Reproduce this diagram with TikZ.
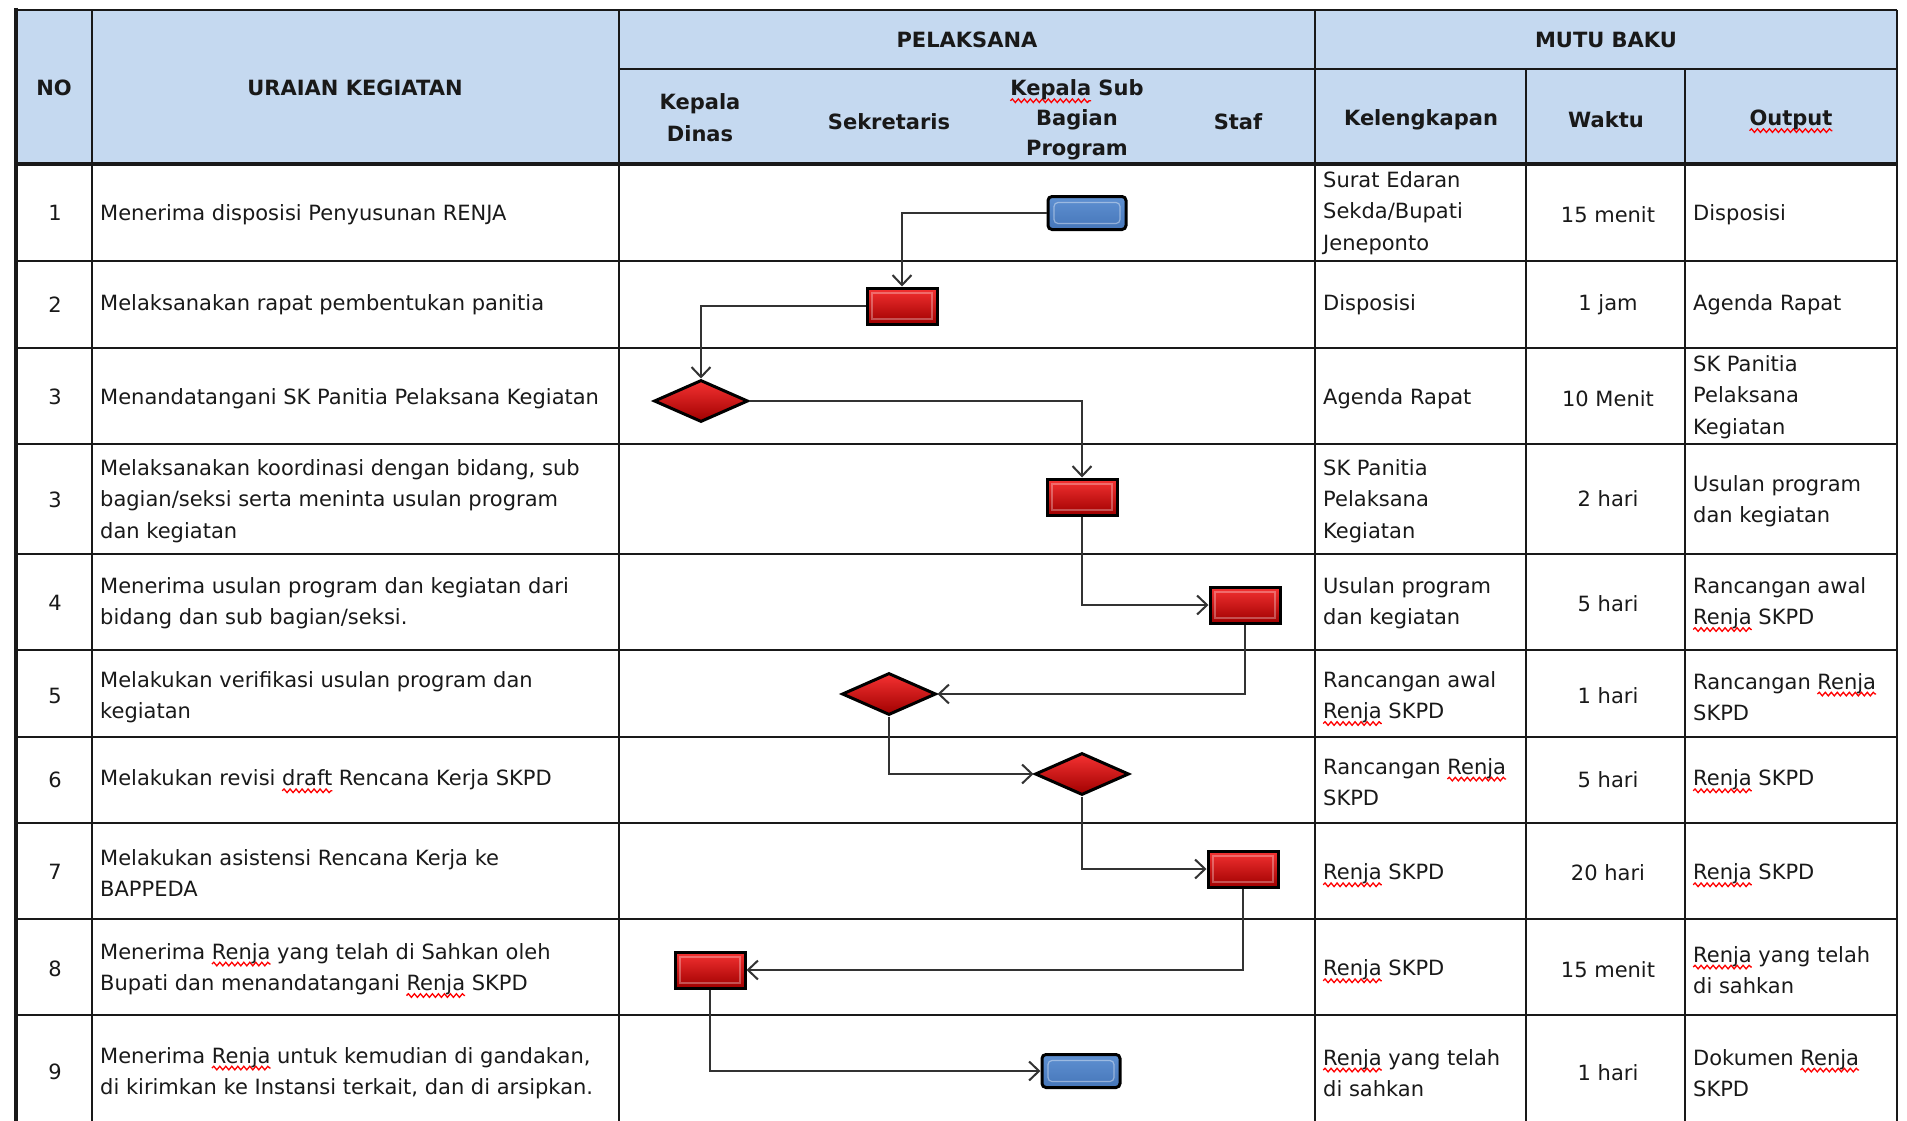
\documentclass[tikz,border=0pt]{standalone}
\usepackage{fontspec}
\setmainfont{DejaVu Sans}
\usetikzlibrary{arrows.meta,shapes.geometric,decorations.pathmorphing}
\definecolor{hdrblue}{RGB}{197,217,240}
\definecolor{redtop}{RGB}{245,50,50}
\definecolor{redmid}{RGB}{215,15,15}
\definecolor{redbot}{RGB}{160,0,0}
\definecolor{bluetop}{RGB}{125,170,228}
\definecolor{bluemid}{RGB}{95,145,210}
\definecolor{bluebot}{RGB}{70,118,185}
\definecolor{txtcol}{RGB}{25,25,25}
\newlength\sqlen
\newcommand\sq[1]{\settowidth\sqlen{#1}\leavevmode\rlap{\tikz[overlay]\draw[red,line width=1.3pt,decorate,decoration={snake,amplitude=1.8pt,segment length=6pt}] (0pt,-5pt) -- (\sqlen,-5pt);}#1}
\begin{document}
\begin{tikzpicture}[x=1pt,y=-1pt,
  tline/.style={draw=black!90,line width=2pt},
  body/.style={font=\fontsize{21}{31.5}\selectfont,text=txtcol,inner sep=0pt,align=left,anchor=west},
  cbody/.style={font=\fontsize{21}{31.5}\selectfont,text=txtcol,inner sep=0pt,align=center},
  hdr/.style={font=\fontsize{21}{31}\selectfont\bfseries,text=txtcol,inner sep=0pt,align=center},
  proc/.style={rectangle,draw=black,line width=3pt,top color=redtop,middle color=redmid,bottom color=redbot,minimum width=70pt,minimum height=36pt,inner sep=0pt,
    path picture={\draw[white,opacity=0.3,line width=1.2pt] ([shift={(5pt,-5pt)}]path picture bounding box.north west) rectangle ([shift={(-5pt,5pt)}]path picture bounding box.south east);}},
  dec/.style={diamond,aspect=2.2,draw=black,line width=3pt,top color=redtop,middle color=redmid,bottom color=redbot,minimum width=94pt,minimum height=42pt,inner sep=0pt},
  term/.style={rectangle,rounded corners=4pt,draw=black,line width=3pt,top color=bluemid,middle color=bluetop,bottom color=bluebot,minimum width=78pt,minimum height=33pt,inner sep=0pt,
    path picture={\draw[white,opacity=0.4,line width=1.2pt] ([shift={(6pt,-6pt)}]path picture bounding box.north west) rectangle ([shift={(-6pt,6pt)}]path picture bounding box.south east);}},
  conn/.style={draw=black!80,line width=2pt,-{Straight Barb[length=10pt,width=19pt,line width=2pt]}}
]
\useasboundingbox (0,0) rectangle (1907,1121);
% header background
\fill[hdrblue] (16,10) rectangle (1897,164);
% grid
\draw[tline] (16,10) -- (1897,10);
\draw[tline] (619,69) -- (1897,69);
\foreach \yy in {261,348,444,554,650,737,823,919,1015}
  \draw[tline] (16,\yy) -- (1897,\yy);
\foreach \xx in {92,619,1315,1897}
  \draw[tline] (\xx,10) -- (\xx,1121);
\foreach \xx in {1526,1685}
  \draw[tline] (\xx,69) -- (\xx,1121);
\draw[tline,line width=3.5pt] (16,164) -- (1897,164);
\draw[tline,line width=4.5pt] (16,8) -- (16,1121);

% headers
\node[hdr] (hno) at (54,88) {NO};
\node[hdr] (hur) at (355,88) {URAIAN KEGIATAN};
\node[hdr] (hpel) at (967,40) {PELAKSANA};
\node[hdr] (hmutu) at (1606,40) {MUTU BAKU};
\node[hdr,font=\fontsize{21}{32}\selectfont\bfseries] (hkd) at (700,118) {Kepala\\Dinas};
\node[hdr] (hsek) at (889,122) {Sekretaris};
\node[hdr,font=\fontsize{21}{30}\selectfont\bfseries] (hksb) at (1077,120) {\sq{Kepala} Sub\\Bagian\\Program};
\node[hdr] (hstaf) at (1238,122) {Staf};
\node[hdr] (hkel) at (1421,120) {Kelengkapan};
\node[hdr] (hwak) at (1606,120) {Waktu};
\node[hdr] (hout) at (1791,120) {\sq{Output}};

% row numbers
\node[cbody] (n1) at (55,213) {1};
\node[cbody] (n2) at (55,305) {2};
\node[cbody] (n3) at (55,397) {3};
\node[cbody] (n4) at (55,500) {3};
\node[cbody] (n5) at (55,603) {4};
\node[cbody] (n6) at (55,696) {5};
\node[cbody] (n7) at (55,780) {6};
\node[cbody] (n8) at (55,872) {7};
\node[cbody] (n9) at (55,969) {8};
\node[cbody] (n10) at (55,1072) {9};

% uraian
\node[body] (u1) at (100,215) {Menerima disposisi Penyusunan RENJA};
\node[body] (u2) at (100,305) {Melaksanakan rapat pembentukan panitia};
\node[body] (u3) at (100,399) {Menandatangani SK Panitia Pelaksana Kegiatan};
\node[body] (u4) at (100,501) {Melaksanakan koordinasi dengan bidang, sub\\bagian/seksi serta meninta usulan program\\dan kegiatan};
\node[body] (u5) at (100,603) {Menerima usulan program dan kegiatan dari\\bidang dan sub bagian/seksi.};
\node[body] (u6) at (100,697) {Melakukan verifikasi usulan program dan\\kegiatan};
\node[body] (u7) at (100,780) {Melakukan revisi \sq{draft} Rencana Kerja SKPD};
\node[body] (u8) at (100,873) {Melakukan asistensi Rencana Kerja ke\\BAPPEDA};
\node[body] (u9) at (100,969) {Menerima \sq{Renja} yang telah di Sahkan oleh\\Bupati dan menandatangani \sq{Renja} SKPD};
\node[body] (u10) at (100,1073) {Menerima \sq{Renja} untuk kemudian di gandakan,\\di kirimkan ke Instansi terkait, dan di arsipkan.};

% kelengkapan
\node[body] (k1) at (1323,213) {Surat Edaran\\Sekda/Bupati\\Jeneponto};
\node[body] (k2) at (1323,305) {Disposisi};
\node[body] (k3) at (1323,399) {Agenda Rapat};
\node[body] (k4) at (1323,501) {SK Panitia\\Pelaksana\\Kegiatan};
\node[body] (k5) at (1323,603) {Usulan program\\dan kegiatan};
\node[body] (k6) at (1323,697) {Rancangan awal\\\sq{Renja} SKPD};
\node[body] (k7) at (1323,782) {Rancangan \sq{Renja}\\SKPD};
\node[body] (k8) at (1323,874) {\sq{Renja} SKPD};
\node[body] (k9) at (1323,970) {\sq{Renja} SKPD};
\node[body] (k10) at (1323,1073) {\sq{Renja} yang telah\\di sahkan};

% waktu
\node[cbody] (w1) at (1608,215) {15 menit};
\node[cbody] (w2) at (1608,305) {1 jam};
\node[cbody] (w3) at (1608,399) {10 Menit};
\node[cbody] (w4) at (1608,499) {2 hari};
\node[cbody] (w5) at (1608,604) {5 hari};
\node[cbody] (w6) at (1608,696) {1 hari};
\node[cbody] (w7) at (1608,780) {5 hari};
\node[cbody] (w8) at (1608,873) {20 hari};
\node[cbody] (w9) at (1608,970) {15 menit};
\node[cbody] (w10) at (1608,1073) {1 hari};

% output
\node[body] (o1) at (1693,215) {Disposisi};
\node[body] (o2) at (1693,305) {Agenda Rapat};
\node[body] (o3) at (1693,397) {SK Panitia\\Pelaksana\\Kegiatan};
\node[body] (o4) at (1693,501) {Usulan program\\dan kegiatan};
\node[body] (o5) at (1693,603) {Rancangan awal\\\sq{Renja} SKPD};
\node[body] (o6) at (1693,697) {Rancangan \sq{Renja}\\SKPD};
\node[body] (o7) at (1693,780) {\sq{Renja} SKPD};
\node[body] (o8) at (1693,874) {\sq{Renja} SKPD};
\node[body] (o9) at (1693,970) {\sq{Renja} yang telah\\di sahkan};
\node[body] (o10) at (1693,1073) {Dokumen \sq{Renja}\\SKPD};

% flow shapes
\node[term] (b1) at (1087,213) {};
\node[proc] (r2) at (902,306) {};
\node[dec] (d3) at (701,401) {};
\node[proc] (r4) at (1082,497) {};
\node[proc] (r5) at (1245,605) {};
\node[dec] (d6) at (889,694) {};
\node[dec] (d7) at (1082,774) {};
\node[proc] (r8) at (1243,869) {};
\node[proc] (r9) at (710,970) {};
\node[term] (b10) at (1081,1071) {};

% connectors
\draw[conn] (b1.west) -| (r2.north);
\draw[conn] (r2.west) -| (d3.north);
\draw[conn] (d3.east) -| (r4.north);
\draw[conn] (r4.south) |- (r5.west);
\draw[conn] (r5.south) |- (d6.east);
\draw[conn] (d6.south) |- (d7.west);
\draw[conn] (d7.south) |- (r8.west);
\draw[conn] (r8.south) |- (r9.east);
\draw[conn] (r9.south) |- (b10.west);
\end{tikzpicture}
\end{document}
